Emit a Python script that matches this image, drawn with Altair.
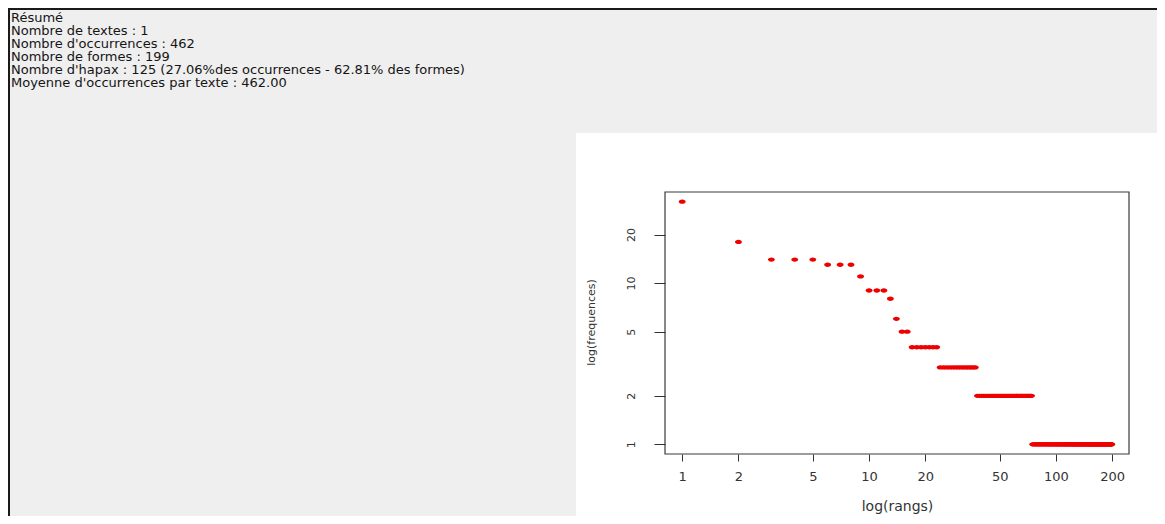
import altair as alt
import pandas as pd

# ---- data ----
summary_lines = [
    "Résumé",
    "Nombre de textes : 1",
    "Nombre d'occurrences : 462",
    "Nombre de formes : 199",
    "Nombre d'hapax : 125 (27.06%des occurrences - 62.81% des formes)",
    "Moyenne d'occurrences par texte : 462.00",
]
# frequency levels (descending) and how many forms (ranks) share each level
freq_levels = [32, 18, 14, 13, 11, 9, 8, 6, 5, 4, 3, 2, 1]
forms_per_level = [1, 1, 3, 3, 1, 3, 1, 1, 2, 7, 14, 37, 125]
x_ticks = [1, 2, 5, 10, 20, 50, 100, 200]
y_ticks = [1, 2, 5, 10, 20]

ranks, freqs = [], []
r = 1
for f, n in zip(freq_levels, forms_per_level):
    for _ in range(n):
        ranks.append(r)
        freqs.append(f)
        r += 1
df = pd.DataFrame({"rang": ranks, "frequence": freqs})
one = pd.DataFrame({"k": [0]})

# ---- layout ----
W, H = 464, 262
PAD = {"left": 657, "top": 184, "right": 28, "bottom": 62}
FONT = "DejaVu Sans"

panel = alt.Chart(one).mark_rect(color="#ffffff").encode(
    x=alt.value(-89), x2=alt.value(W + 60), y=alt.value(-59), y2=alt.value(H + 90)
)
left_border = alt.Chart(one).mark_rect(color="#1a1a1a").encode(
    x=alt.value(-657), x2=alt.value(-655), y=alt.value(-184), y2=alt.value(H + 90)
)
top_border = alt.Chart(one).mark_rect(color="#1a1a1a").encode(
    x=alt.value(-657), x2=alt.value(W + 60), y=alt.value(-184), y2=alt.value(-182)
)

summary_layers = []
for i, line in enumerate(summary_lines):
    summary_layers.append(
        alt.Chart(one).mark_text(
            align="left", baseline="alphabetic", font=FONT, fontSize=13,
            color="#151515", text=line
        ).encode(x=alt.value(-654), y=alt.value(-170 + 13 * i))
    )

frame = alt.Chart(one).mark_rect(fillOpacity=0, stroke="#3a3a3a", strokeWidth=1.2).encode(
    x=alt.value(0), x2=alt.value(W), y=alt.value(0), y2=alt.value(H)
)

points = alt.Chart(df).mark_point(
    filled=True,
    shape="M-1,0A1,0.62,0,1,0,1,0A1,0.62,0,1,0,-1,0Z",
    size=48, color="#ee0000", opacity=1, strokeWidth=0
).encode(
    x=alt.X("rang:Q",
            scale=alt.Scale(type="log", domain=[0.809, 245.9], nice=False),
            axis=alt.Axis(values=x_ticks, format="d", title="log(rangs)",
                          domain=False, grid=False, tickSize=7, tickColor="#333333",
                          labelFont=FONT, labelFontSize=13, labelColor="#333333",
                          labelPadding=9, labelFlush=False, labelOverlap=False,
                          titleFont=FONT, titleFontSize=14, titleFontWeight="normal",
                          titleColor="#333333", titleY=52, titleBaseline="middle",
                          zindex=1)),
    y=alt.Y("frequence:Q",
            scale=alt.Scale(type="log", domain=[0.8706, 36.75], nice=False),
            axis=alt.Axis(values=y_ticks, format="d", title="log(frequences)",
                          domain=False, grid=False, tickSize=11, tickColor="#333333",
                          labelFont=FONT, labelFontSize=11, labelColor="#333333",
                          labelAngle=270, labelAlign="center", labelBaseline="bottom",
                          labelPadding=18, labelFlush=False, labelOverlap=False,
                          titleFont=FONT, titleFontSize=11, titleFontWeight="normal",
                          titleColor="#333333", titleAngle=270, titleAlign="center",
                          titleBaseline="bottom", titleX=-69, titleY=130,
                          zindex=1)),
)

chart = alt.layer(panel, left_border, top_border, *summary_layers, frame, points).properties(
    width=W, height=H, padding=PAD,
    autosize=alt.AutoSizeParams(type="none"),
    background="#efefef",
).configure_view(strokeWidth=0)

chart.save("out.html", embed_options={"renderer": "svg", "actions": False})
